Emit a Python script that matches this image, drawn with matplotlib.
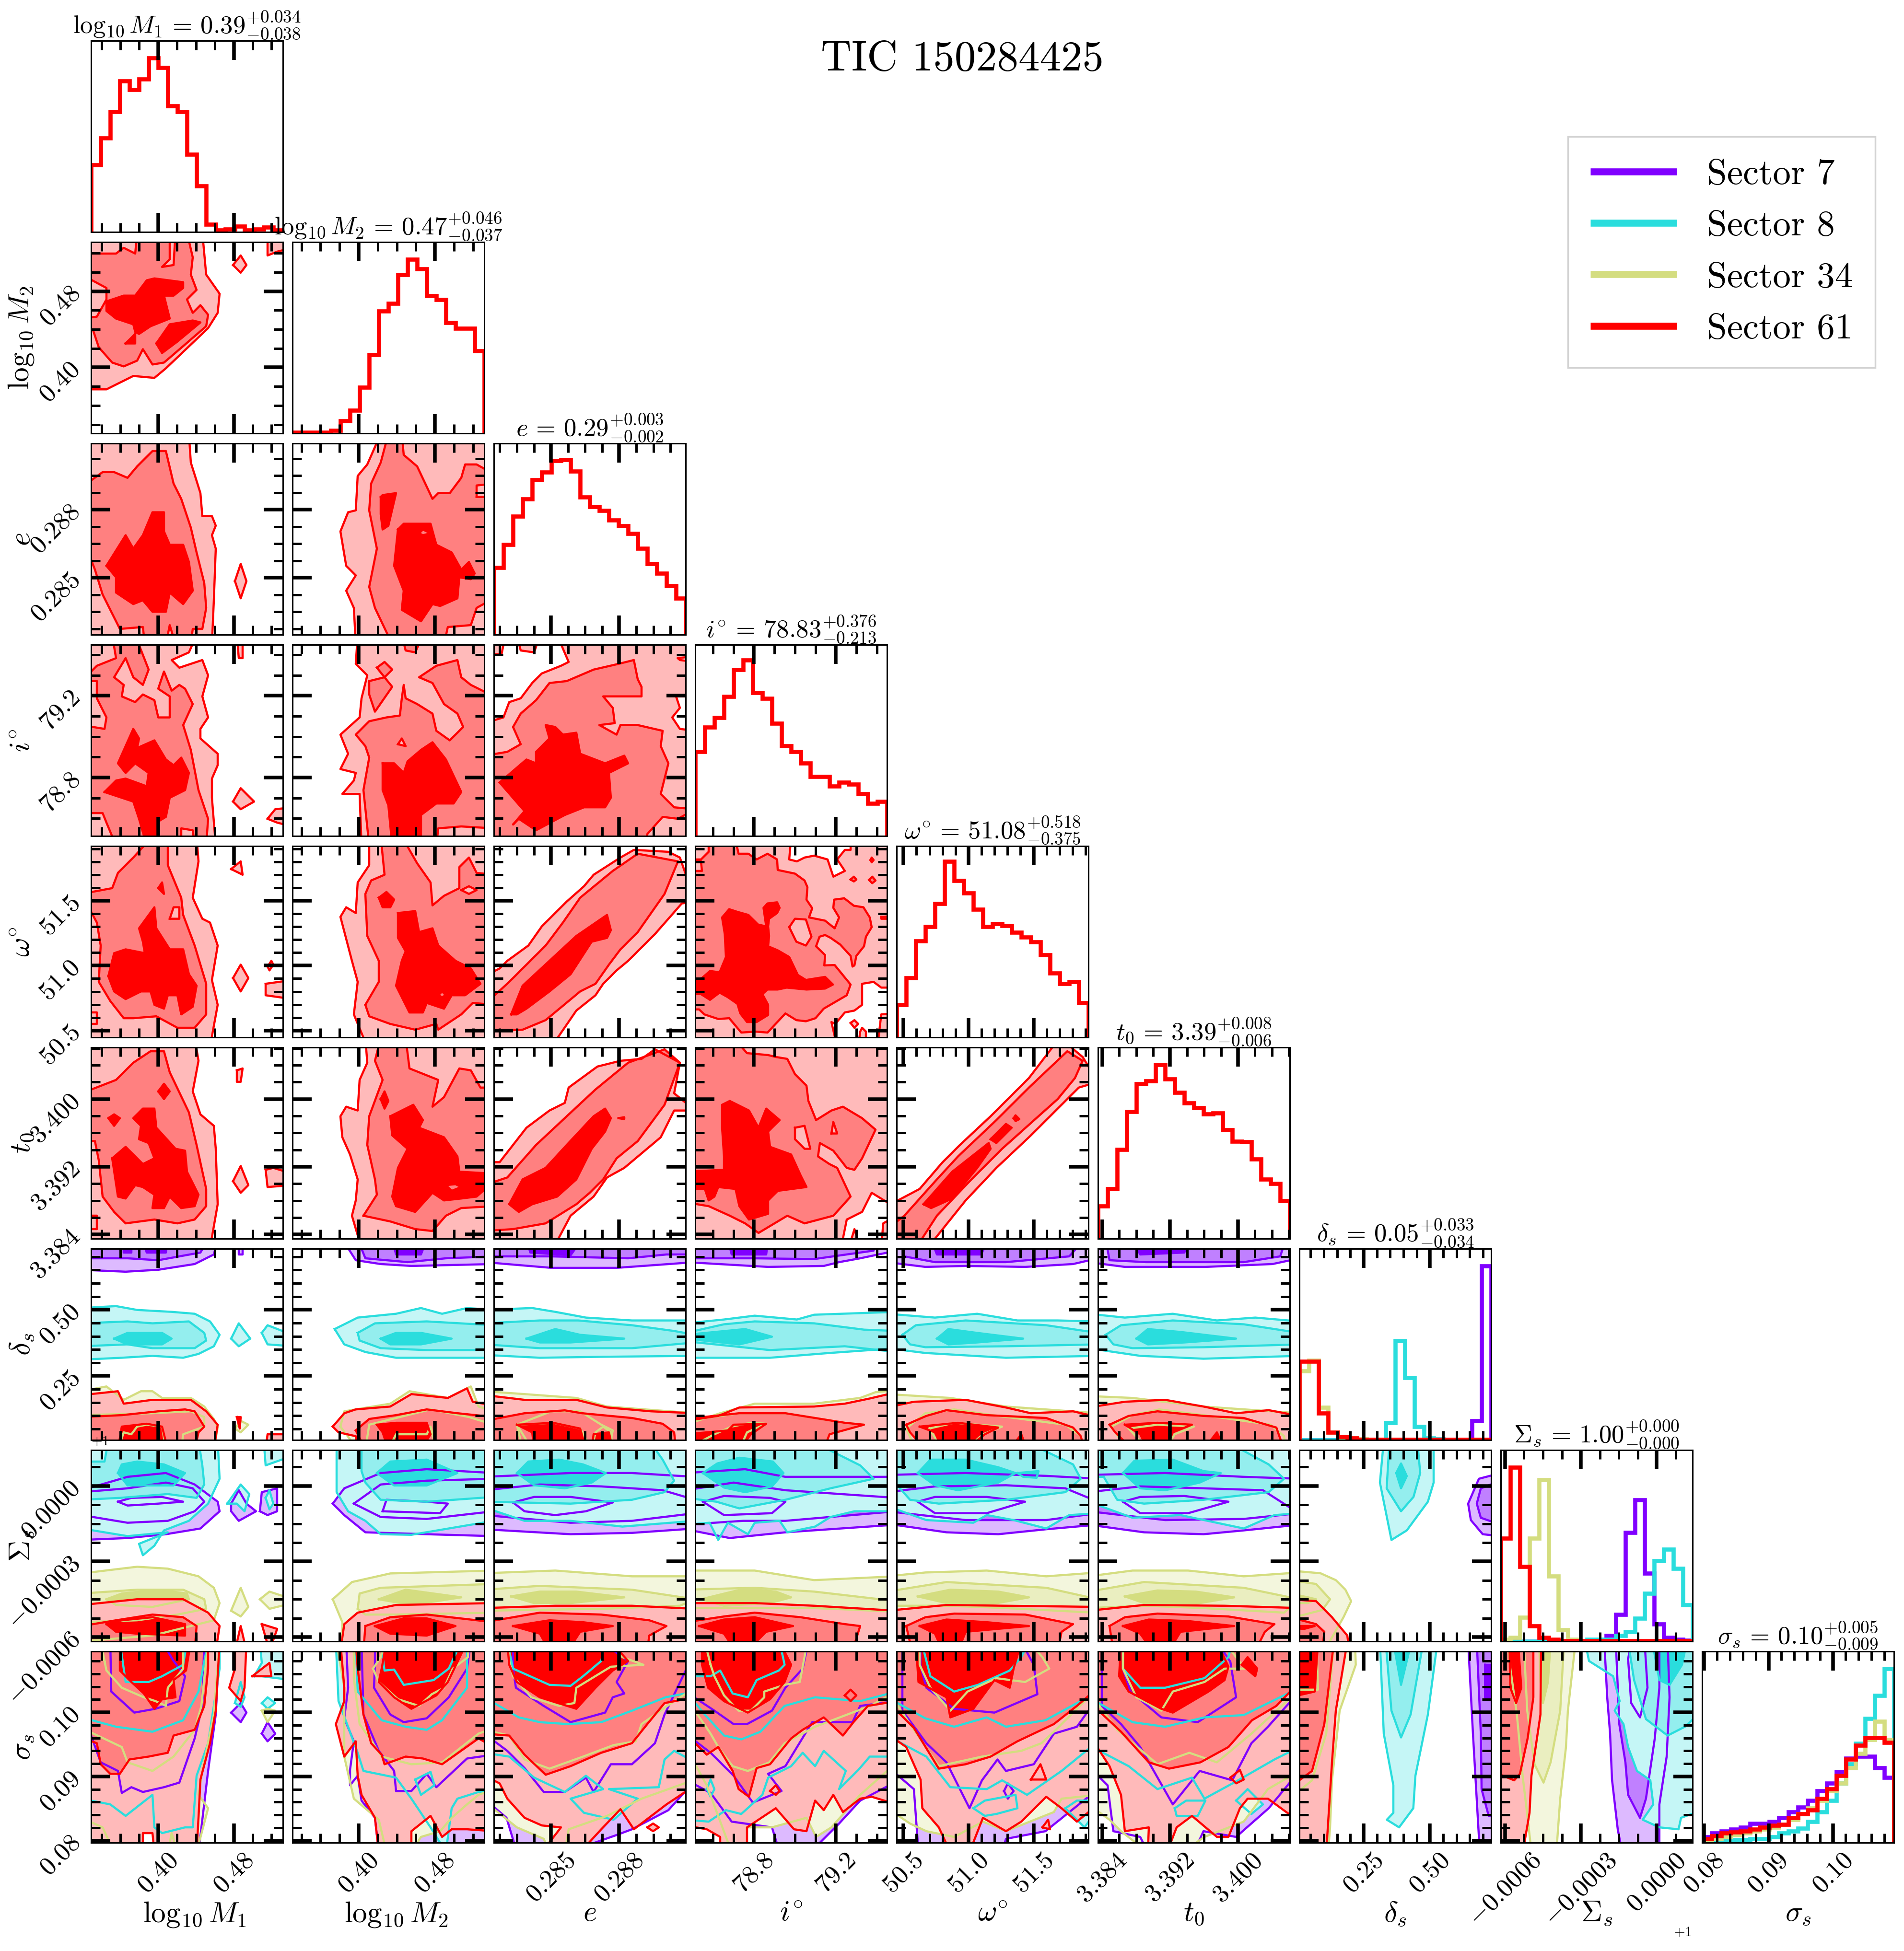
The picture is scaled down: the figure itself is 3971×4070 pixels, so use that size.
import numpy as np
import matplotlib
matplotlib.use("Agg")
import matplotlib.pyplot as plt
from matplotlib.lines import Line2D
from matplotlib.ticker import AutoMinorLocator
from matplotlib.transforms import ScaledTranslation

plt.rcParams["font.family"] = "cmr10"
plt.rcParams["mathtext.fontset"] = "cm"
plt.rcParams["axes.unicode_minus"] = False

sectors = ["Sector 7", "Sector 8", "Sector 34", "Sector 61"]
colors = ["#8000ff", "#2adddd", "#d4dd80", "#ff0000"]
shade = [0.0, 0.27, 0.5, 1.0]

names = [r"\log_{10}M_1", r"\log_{10}M_2", "e", r"i^{\circ}", r"\omega^{\circ}", "t_0", r"\delta_s", r"\Sigma_s", r"\sigma_s"]
medians = ["0.39", "0.47", "0.29", "78.83", "51.08", "3.39", "0.05", "1.00", "0.10"]
err_up = ["0.034", "0.046", "0.003", "0.376", "0.518", "0.008", "0.033", "0.000", "0.005"]
err_dn = ["0.038", "0.037", "0.002", "0.213", "0.375", "0.006", "0.034", "0.000", "0.009"]

ranges = [(0.329, 0.532), (0.3307, 0.5317), (0.28249, 0.29092), (78.514, 79.449), (50.447, 51.922),
          (3.3835, 3.4061), (0.008, 0.7305), (-0.000617, 0.000142), (0.07967, 0.1095)]
major_ticks = [[0.40, 0.48], [0.40, 0.48], [0.285, 0.288], [78.8, 79.2], [50.5, 51.0, 51.5],
               [3.384, 3.392, 3.400], [0.25, 0.50], [-0.0006, -0.0003, 0.0], [0.08, 0.09, 0.10]]
tick_text = [["0.40", "0.48"], ["0.40", "0.48"], ["0.285", "0.288"], ["78.8", "79.2"], ["50.5", "51.0", "51.5"],
             ["3.384", "3.392", "3.400"], ["0.25", "0.50"], ["-0.0006", "-0.0003", "0.0000"], ["0.08", "0.09", "0.10"]]
minor_div = [4, 4, 4, 4, 5, 4, 5, 4, 5]

# histograms, 20 bins, height in percent of panel
hist_M1 = [35, 49, 63, 79, 74.5, 80, 91, 86, 66, 63, 40.5, 24, 4, 1, 1.5, 3, 1, 1.5, 2.5, 1]
hist_M2 = [.5, .5, .5, .5, 1.5, 6.5, 12, 24, 41, 64, 68, 83, 91, 86, 72, 70, 58, 55, 55, 43]
hist_e = [35, 47, 62, 71, 81, 85, 91, 91.5, 85.5, 72, 67, 65, 60, 57, 53, 45, 37, 32, 25.5, 19]
hist_i = [44, 57, 62, 73, 87, 92, 75, 72, 59, 47, 44, 38, 31, 31, 26, 28, 27, 22, 17, 18]
hist_w = [17, 31, 50.5, 58, 70, 92, 82, 75.5, 67, 58, 59.5, 58.5, 55, 52.5, 50, 43, 33.5, 28, 29, 18]
hist_t0 = [17, 26, 46.7, 66.4, 81, 82.5, 91, 83.5, 76.5, 71, 68.4, 65.2, 65.7, 57, 51, 50.6, 41.7, 31, 28.7, 19.8]
hist_ds_7 = [0, 0, 0, 0, 0, 0, 0, 0, 0, 0, 0, 0, 0, 0, 0, 0, 0, 0, 10, 91]
hist_ds_8 = [0, 0, 0, 0, 0, 0, 0, 0, 0, 9, 52, 32.5, 7, 1, .5, 0, 0, 0, 0, 0]
hist_ds_34 = [36, 41.5, 17, 4, 1.5, 1, .5, .2, .2, .2, .2, .2, 0, 0, 0, 0, 0, 0, 0, 0]
hist_ds_61 = [41, 41, 14, 4, 1.7, 1, .3, .2, .2, .2, .2, .2, .2, .2, .2, .2, .2, .2, .2, .2]
hist_Sg_7 = [0, 0, 0, 0, 0, 0, 0, 0, 0, 0, 0, 3, 14, 57, 74, 35.5, 9, 2, 1, .5]
hist_Sg_8 = [0, 0, 0, 0, 0, 0, 0, 0, 0, 1, 1, 1, 3, 5, 12, 25, 42, 48, 38, 19]
hist_Sg_34 = [1, 2, 12.5, 54, 84.5, 34, 6, 1, .3, .3, .3, 0, 0, 0, 0, 0, 0, 0, 0, 0]
hist_Sg_61 = [54, 91, 39, 8, 2, 1, .3, .3, .3, .3, .3, .3, .3, .3, .3, .3, .3, .3, .3, .3]
hist_ss_7 = [3, 5, 6, 7, 8, 10, 10, 11, 13, 16, 18.5, 22, 27, 31, 37, 44, 45, 45, 39, 34]
hist_ss_8 = [.5, 1, 1, 1.5, 1.5, 2, 2, 3, 5, 6, 7.5, 11, 16, 22, 31, 41, 52, 65, 77, 91]
hist_ss_34 = [1, 2, 3, 4, 5, 6, 7, 8, 9.5, 12, 15, 18, 22, 27, 31, 39, 46.5, 54, 63.5, 54]
hist_ss_61 = [2, 3.5, 5, 5.5, 6, 7, 8, 9, 9.5, 13, 15, 17, 23, 28, 35, 43.5, 51, 55, 55, 52.5]

diag_hists = [[(3, hist_M1)], [(3, hist_M2)], [(3, hist_e)], [(3, hist_i)], [(3, hist_w)], [(3, hist_t0)],
              [(0, hist_ds_7), (1, hist_ds_8), (2, hist_ds_34), (3, hist_ds_61)],
              [(0, hist_Sg_7), (1, hist_Sg_8), (2, hist_Sg_34), (3, hist_Sg_61)],
              [(0, hist_ss_7), (1, hist_ss_8), (2, hist_ss_34), (3, hist_ss_61)]]

# contours: (sector, level, x,y,x,y...) with x,y in percent of each
# parameter's plotted range. level 0 is an empty hole
M2_M1 = [
    (3, 1, [-5, 23, 8, 23, 22, 30, 33, 29, 39, 34, 61, 55, 66, 63, 67, 73, 60, 83, 58, 105, -5, 105]),
    (3, 1, [74, 88, 78, 93, 81, 88, 78, 84]),
    (3, 1, [92, 105, 92, 93, 97, 95, 105, 97, 105, 105]),
    (3, 2, [-5, 94, 13, 94, 17, 97, 23, 94, 24, 105, 41, 105, 41, 91, 37, 87, 43, 88, 44, 105, 50, 105, 53, 92, 52, 83, 55, 75, 50, 70, 53, 63, 57, 67, 61, 62, 60, 56, 45, 43, 38, 37, 32, 36, 27, 44, 24, 38, 17, 35, 11, 37, 4, 45, 1, 54, -5, 54, -5, 60, 3, 61, 8, 70, 8, 76, -5, 83]),
    (3, 3, [8, 69, 17, 72, 23, 72, 29, 80, 33, 81, 48, 79, 48, 76, 43, 72, 38, 72, 41, 60, 31, 56, 25, 52, 23, 53, 22, 57, 13, 60, 8, 64]),
    (3, 3, [18, 47, 23, 52, 23, 47]),
    (3, 3, [34, 47, 41, 57, 53, 59, 57, 58, 45, 48, 37, 42]),
]
e_M1 = [
    (3, 1, [63, -5, 64, 18, 65, 45, 63, 52, 65, 57, 63, 62, 58, 62, 57, 74, 52, 90, 51, 105, -5, 105, -5, -5]),
    (3, 1, [75, 28, 78, 37, 81, 28, 78, 19]),
    (3, 2, [-5, 77, 6, 85, 12, 85, 19, 82, 24, 88, 32, 96, 39, 96, 43, 79, 47, 71, 52, 56, 55, 43, 59, 27, 60, 14, 58, 3, 53, 3, 52, -5, 44, -5, 41, 5, 39, -5, 28, -5, 27, 4, 15, 3, 12, 9, 6, 21, 2, 34, -5, 52]),
    (3, 3, [8, 36, 18, 52, 22, 45, 27, 52, 32, 64, 38, 64, 38, 54, 41, 47, 48, 47, 51, 38, 53, 23, 48, 16, 41, 22, 39, 12, 32, 12, 27, 18, 22, 16, 13, 22, 13, 30]),
]
e_M2 = [
    (3, 1, [33, -5, 32, 14, 28, 23, 33, 31, 28, 36, 25, 54, 29, 64, 33, 65, 34, 83, 39, 89, 46, 105, 105, 105, 105, -5]),
    (3, 2, [52, -5, 43, 14, 40, 25, 44, 45, 40, 65, 41, 79, 46, 90, 50, 105, 57, 105, 58, 94, 65, 88, 73, 71, 76, 74, 82, 74, 88, 82, 90, 89, 96, 89, 105, 84, 105, 19, 96, 14, 93, 5, 81, 4, 79, -5]),
    (3, 1, [96, 72, 96, 78, 105, 79, 105, 72]),
    (3, 3, [55, 55, 58, 58, 72, 58, 75, 47, 83, 43, 88, 34, 92, 38, 95, 32, 93, 29, 87, 30, 86, 19, 77, 15, 73, 16, 67, 7, 57, 13, 58, 23, 53, 36]),
    (3, 2, [66, 53, 68, 55, 72, 53, 68, 52]),
    (3, 3, [46, 72, 47, 73, 54, 74, 50, 57, 47, 55, 46, 63]),
]
i_M1 = [
    (3, 1, [65, -5, 63, 20, 63, 30, 66, 37, 66, 43, 57, 51, 57, 56, 61, 62, 58, 73, 61, 84, 58, 92, 46, 88, 42, 92, 51, 96, 55, 105, -5, 105, -5, -5]),
    (3, 1, [74, 18, 78, 25, 85, 18, 78, 14]),
    (3, 1, [92, 9, 96, 14, 105, 15, 105, 5, 97, 7]),
    (3, 1, [76, 105, 77, 93, 79, 93, 79, 105]),
    (3, 2, [-5, 12, 6, 12, 8, 7, 13, -5, 47, -5, 47, 4, 53, 3, 54, -5, 60, -5, 61, 9, 56, 24, 52, 45, 48, 58, 53, 69, 49, 77, 46, 79, 42, 76, 38, 86, 35, 77, 41, 73, 41, 62, 35, 62, 33, 71, 27, 74, 23, 70, 16, 73, 17, 79, 12, 83, 18, 93, 22, 83, 27, 79, 30, 87, 23, 105, 11, 105, 13, 93, 3, 89, -5, 81, 3, 81, 3, 72, 8, 62, 7, 56, -5, 58]),
    (3, 3, [7, 23, 13, 29, 18, 30, 29, 26, 30, 33, 23, 38, 18, 33, 14, 38, 18, 47, 22, 56, 25, 51, 24, 46, 33, 50, 39, 40, 43, 37, 47, 41, 51, 33, 49, 24, 41, 20, 39, 10, 34, 7, 35, -5, 29, -5, 25, 9, 22, 18]),
]
i_M2 = [
    (3, 1, [36, -5, 35, 22, 26, 22, 32, 29, 33, 33, 25, 35, 29, 43, 25, 53, 35, 62, 36, 72, 39, 84, 33, 90, 34, 105, 105, 105, 105, -5]),
    (3, 2, [57, 105, 59, 97, 64, 96, 68, 105]),
    (3, 2, [40, -5, 37, 24, 40, 41, 38, 47, 33, 53, 40, 60, 49, 62, 56, 63, 57, 72, 58, 79, 59, 72, 65, 69, 73, 64, 75, 55, 82, 50, 89, 57, 86, 64, 79, 69, 73, 80, 66, 83, 75, 89, 86, 92, 88, 83, 93, 79, 105, 73, 105, 4, 88, 5, 76, 4, 75, -5]),
    (3, 2, [40, 81, 48, 83, 52, 78, 43, 65, 40, 74]),
    (3, 2, [44, 88, 48, 91, 52, 87, 48, 83]),
    (3, 1, [55, 48, 57, 51, 59, 47]),
    (3, 3, [47, 38, 53, 38, 58, 33, 60, 39, 67, 45, 73, 49, 80, 40, 88, 23, 84, 17, 75, 17, 67, 11, 67, -5, 52, -5, 50, 16, 47, 24]),
]
i_e = [
    (3, 1, [-5, -5, 105, -5, 105, 105, 33, 105, 39, 91, 35, 89, 25, 85, 20, 80, 14, 72, 8, 70, 5, 62, -5, 59]),
    (3, 1, [12, 105, 14, 97, 21, 96, 24, 105]),
    (3, 1, [-5, 105, -5, 95, 4, 95, 6, 105]),
    (3, 0, [95, 73, 97, 67, 93, 62, 97, 56, 105, 55, 105, 73]),
    (3, 0, [96, 93, 105, 94, 105, 91, 97, 92]),
    (3, 2, [-5, 42, 7, 44, 14, 48, 10, 57, 14, 64, 22, 71, 29, 80, 38, 81, 52, 87, 65, 90, 73, 92, 75, 82, 77, 78, 77, 73, 57, 73, 62, 67, 63, 59, 55, 58, 64, 53, 66, 58, 75, 58, 88, 55, 87, 47, 91, 38, 87, 22, 94, 15, 105, 14, 96, 9, 88, 10, 80, 1, 79, -5, -5, -5]),
    (3, 3, [3, 28, 17, 40, 22, 38, 22, 44, 29, 51, 27, 58, 32, 57, 36, 53, 43, 54, 45, 43, 58, 38, 68, 42, 70, 38, 60, 33, 61, 20, 58, 15, 47, 15, 37, 11, 22, 3, 13, 9, 10, 6, 16, 13]),
]
w_M1 = [
    (3, 1, [62, -5, 66, 17, 63, 30, 66, 48, 62, 60, 58, 62, 53, 73, 56, 92, 55, 105, -5, 105, -5, -5]),
    (3, 1, [74, 31, 78, 38, 82, 31, 78, 24]),
    (3, 1, [73, 88, 78, 92, 79, 85]),
    (3, 1, [92, 37, 94, 40, 95, 38, 93, 35]),
    (3, 1, [91, 28, 91, 22, 105, 20, 105, 30]),
    (3, 1, [-5, 13, 3, 13, 3, 7, -5, 7]),
    (3, 2, [-5, 75, 11, 78, 14, 86, 22, 94, 32, 105, 40, 105, 40, 90, 47, 73, 48, 64, 54, 48, 60, 28, 60, 12, 54, 5, 45, 5, 34, 11, 22, 10, 17, 10, 10, 19, 4, 29, 5, 48, 3, 60]),
    (3, 3, [9, 32, 12, 44, 18, 46, 28, 44, 27, 50, 25, 57, 33, 68, 34, 57, 41, 46, 48, 46, 51, 33, 55, 27, 53, 16, 47, 12, 45, 22, 40, 22, 38, 15, 33, 17, 31, 24, 26, 24, 18, 20, 12, 24]),
    (3, 3, [35, 78, 37, 81, 38, 75]),
    (3, 1, [41, 62, 43, 68, 46, 68, 46, 62]),
]
w_M2 = [
    (3, 1, [39, -5, 32, 12, 34, 29, 31, 40, 25, 63, 28, 68, 33, 65, 34, 81, 40, 90, 40, 105, 105, 105, 105, -5]),
    (3, 2, [38, 17, 40, 11, 51, 7, 64, 4, 75, 7, 76, 4, 88, 12, 94, 18, 105, 17, 105, 85, 96, 86, 92, 94, 87, 89, 87, 78, 79, 74, 73, 69, 72, 81, 65, 91, 57, 105, 46, 105, 48, 85, 41, 82, 38, 75, 39, 53, 45, 40, 45, 29]),
    (3, 1, [88, 77, 92, 79, 96, 77, 92, 75]),
    (3, 3, [55, 65, 64, 66, 66, 55, 73, 57, 76, 48, 85, 40, 93, 36, 98, 28, 90, 22, 83, 22, 79, 15, 70, 18, 68, 13, 61, 13, 54, 27, 57, 40, 59, 45, 55, 52]),
    (3, 2, [76, 22, 78, 24, 80, 22, 78, 21]),
    (3, 3, [45, 73, 49, 76, 53, 72, 51, 68, 47, 68]),
]
w_e = [
    (3, 1, [-5, 32, 3, 36, 7, 40, 18, 48, 25, 58, 38, 71, 47, 79, 52, 85, 66, 94, 73, 98, 91, 97, 97, 94, 105, 71, 98, 70, 84, 54, 70, 40, 64, 35, 57, 28, 53, 22, 43, 14, 30, -5, -5, -5]),
    (3, 2, [-5, 17, 8, 29, 27, 48, 36, 60, 45, 73, 62, 87, 75, 96, 96, 92, 89, 75, 75, 55, 66, 46, 60, 38, 53, 28, 45, 24, 27, 9, 15, 4, -5, 3]),
    (3, 3, [9, 12, 15, 27, 29, 40, 43, 53, 59, 64, 61, 56, 59, 52, 51, 50, 40, 33, 29, 24, 17, 15, 12, 12]),
]
w_i = [
    (3, 1, [-5, -5, 105, -5, 105, 105, -5, 105]),
    (3, 0, [50, 105, 49, 93, 53, 92, 57, 94, 62, 95, 69, 93, 72, 84, 78, 87, 74, 93, 78, 98, 81, 98, 81, 105]),
    (3, 0, [105, 26, 97, 26, 93, 29, 87, 28, 87, 17, 83, 14, 78, 13, 73, 7, 71, 8, 74, -5, 105, -5]),
    (3, 1, [81, 7.5, 83, 9, 85, 7, 83, 5]),
    (3, 1, [85, -5, 86, 3, 87, 5, 89, 3, 89, -5]),
    (3, 1, [95, -5, 97, 12, 105, 12.5, 105, -5]),
    (3, 2, [7, 105, 7, 97, 3, 93, -5, 93, -5, 14.6, 2, 14.6, 4.7, 12, 12, 9.6, 17.7, 10, 24, 2.5, 31.4, 3, 37.7, 2.5, 47, 12.5, 52.7, 9, 57.7, 8.4, 62.7, 10, 67, 15, 79, 22, 81, 27.6, 72.7, 37.8, 67.3, 37.6, 67.7, 43, 63, 47.6, 64.8, 52.6, 67.7, 53.5, 70.6, 52, 75.6, 48.5, 81, 42.6, 82, 37, 83, 37.6, 84, 42.6, 88, 47.6, 89, 52.6, 92, 57.6, 91, 62.7, 87.7, 68, 82.7, 68.8, 77.7, 72.7, 72.4, 72, 72, 67.7, 75, 62.7, 72.7, 57, 67.7, 61, 59.3, 62.7, 61, 67.5, 58, 72, 58.5, 78.5, 57, 82, 52, 85.6, 43, 87.5, 42.7, 93, 37.7, 96, 32, 93, 27.7, 96, 22.6, 96, 20.6, 105]),
    (3, 1, [-5, 92, 3, 92, 3.5, 87, -5, 87]),
    (3, 1, [49, 57.6, 52, 62, 57.7, 61.6, 60.6, 52.6, 57.7, 48, 52.7, 50]),
    (3, 3, [-5, 29, 3.5, 31, 7.7, 34.7, 12.7, 34, 16, 42, 15.4, 54, 14, 62.7, 17.7, 67, 22, 65.6, 27.7, 64, 32.7, 59, 37, 58, 35.6, 67.7, 37.7, 70, 42.7, 70.6, 44, 67.7, 42.7, 65, 38.5, 62, 38, 58, 38.5, 53, 38, 47.6, 43, 45.5, 49, 42, 53.5, 32.6, 57.7, 30, 67.7, 31.6, 71.8, 27.6, 67.7, 25.5, 58, 25, 47.7, 26, 43, 25, 37.7, 25, 35, 22.6, 38, 17, 38, 11.7, 32, 8, 27, 8, 23.5, 12.5, 22, 17.5, 17, 21, 12.7, 23.4, 7.7, 19.6, 3, 22.6, -5, 22.6]),
    (3, 2, [91.4, 92.7, 92, 94, 93, 92.7, 92, 91.5]),
    (3, 2, [81, 82.5, 82.7, 84, 84, 82.5, 82.7, 81.5]),
    (3, 2, [90.6, 82.3, 92.3, 84, 94, 82, 92.3, 80.6]),
    (3, 2, [97, 63, 105, 63.5, 105, 62, 97, 62]),
]
t0_M1 = [
    (3, 1, [62, -5, 66, 18, 65, 47, 64, 59, 57, 65, 53, 77, 56, 93, 54, 105, -5, 105, -5, -5]),
    (3, 1, [74, 30, 78, 38, 82, 28, 78, 24]),
    (3, 1, [76, 88, 79, 89, 78, 82, 76, 82]),
    (3, 1, [91, 36, 95, 37, 105, 34, 105, 28, 92, 27]),
    (3, 1, [-5, 12, 3, 12, 3, 5, -5, 5]),
    (3, 2, [-5, 76, 13, 83, 22, 92, 31, 98, 38, 98, 41, 87, 51, 66, 55, 49, 60, 26, 60, 17, 54, 10, 45, 8, 33, 10, 18, 8, 12, 14, 6, 22, 4, 41, 2, 51, -5, 51]),
    (3, 3, [11, 42, 18, 48, 27, 39, 33, 42, 30, 50, 25, 52, 26, 59, 22, 63, 27, 68, 33, 68, 34, 58, 44, 47, 49, 46, 50, 35, 56, 23, 54, 17, 47, 16, 41, 22, 38, 16, 32, 16, 33, 23, 27, 27, 23, 28, 18, 21, 14, 22]),
    (3, 3, [9, 63, 12, 65, 15, 63, 12, 59]),
    (3, 3, [35, 77, 38, 81, 41, 77, 38, 73]),
]
t0_M2 = [
    (3, 1, [36, -5, 31, 12, 33, 20, 34, 31, 30, 44, 26, 53, 25, 64, 28, 69, 34, 67, 35, 83, 39, 92, 38, 105, 105, 105, 105, -5]),
    (3, 2, [37, 12, 44, 23, 43, 31, 39, 49, 40, 64, 47, 83, 43, 93, 46, 105, 59, 105, 61, 89, 76, 83, 73, 69, 79, 74, 87, 89, 93, 88, 98, 79, 105, 79, 105, 17, 88, 16, 80, 12, 73, 4, 64, 5, 51, 9]),
    (3, 3, [51, 64, 63, 70, 68, 62, 66, 58, 79, 53, 86, 43, 87, 35, 105, 34, 105, 30, 96, 22, 88, 21, 79, 20, 73, 24, 64, 14, 54, 17, 52, 22, 55, 37, 60, 47, 52, 54]),
    (3, 2, [80, 28, 85, 28.5, 88, 27, 83, 25]),
    (3, 3, [46, 73, 48, 77, 50, 72, 48, 68]),
]
t0_e = [
    (3, 1, [-5, 40, 3, 40, 17, 58, 29, 67, 37, 71, 39, 79, 54, 90, 66, 93, 77, 94, 84, 99, 97, 92, 94, 76, 105, 67, 94, 67, 87, 53, 68, 37, 59, 32, 52, 22, 40, 12, 31, -5, -5, -5]),
    (3, 2, [-5, 28, 7, 32, 22, 49, 38, 64, 53, 78, 70, 92, 89, 99, 97, 92, 89, 70, 75, 51, 64, 42, 57, 31, 50, 24, 43, 18, 27, 8, 10, 5, -5, 4]),
    (3, 3, [8, 18, 15, 31, 27, 37, 38, 49, 52, 64, 58, 68, 61, 63, 58, 56, 51, 47, 43, 31, 33, 22, 20, 18, 13, 14]),
    (3, 3, [65, 63, 68, 63.5, 68, 62.5]),
]
t0_i = [
    (3, 1, [-5, -5, 105, -5, 105, 105, -5, 105]),
    (3, 0, [76, -5, 79, 10, 87, 14, 92, 24, 105, 16, 105, -5]),
    (3, 1, [80, -5, 83, 5, 86, -5]),
    (3, 1, [97, -5, 98, 8, 105, 12, 105, -5]),
    (3, 2, [2, 105, -5, 95, -5, 19, 7, 17, 18, 12, 26, 8, 33, 3, 48, 12, 57, 8, 72, 12, 81, 22, 74, 37, 70, 39, 64, 43, 65, 50, 72, 46, 79, 37, 83, 36, 87, 42, 94, 57, 87, 63, 77, 69, 71, 67, 63, 62, 59, 72, 58, 80, 52, 86, 48, 94, 42, 95, 38, 96, 27, 97, 20, 105]),
    (3, 1, [52, 58, 57, 59, 60, 47, 57, 47, 52, 52]),
    (3, 1, [71, 55, 72, 61, 74, 55, 72, 55]),
    (3, 3, [-5, 35, 15, 36, 15, 43, 14, 58, 14, 70, 18, 72, 28, 67, 33, 58, 37, 68, 44, 62, 38, 56, 39, 48, 50, 44, 55, 33, 58, 27, 43, 25, 38, 20, 38, 13, 28, 10, 23, 17, 21, 26, 12, 27, 10, 22, 7, 20, 5, 26, -5, 26]),
]
t0_w = [
    (3, 1, [-5, 17, 12, 26, 24, 40, 33, 49, 49, 64, 69, 84, 85, 105, 97, 95, 105, 82, 95, 79, 82, 66, 70, 54, 52, 37, 36, 20, 16, -5, -5, -5]),
    (3, 2, [4, 12, 21, 31, 32, 43, 52, 62, 69, 79, 89, 98, 97, 93, 93, 84, 84, 73, 55, 47, 39, 31, 21, 12, 10, -5, 4, -5, -5, 5]),
    (3, 3, [14, 18, 29, 35, 48, 50, 49, 47, 42, 37, 29, 21, 18, 16]),
    (3, 3, [49, 52, 57, 60, 60, 58, 52, 50]),
    (3, 3, [61, 63, 62, 64.5, 64, 62.5, 62, 61.5]),
]
ds_M1 = [
    (0, 1, [-5, 89, 18, 88, 35, 89, 54, 92, 64, 97, 66, 105, -5, 105]),
    (0, 1, [77, 105, 77, 97, 79, 97, 79, 105]),
    (0, 2, [-5, 95, 19, 95, 35, 94, 57, 98, 61, 105, -5, 105]),
    (0, 3, [17, 105, 17, 98, 21, 98, 21, 105]),
    (0, 3, [27, 105, 29, 98, 39, 98, 40, 105]),
    (1, 1, [-5, 69, 13, 70, 24, 68, 42, 67, 54, 66, 62, 62, 67, 55, 64, 49, 56, 45, 48, 43, 32, 44, 16, 43, -5, 42]),
    (1, 1, [73, 53, 77, 61, 83, 53, 77, 49]),
    (1, 1, [89, 56, 92, 60, 105, 55, 105, 49, 92, 50]),
    (1, 2, [-5, 61, 19, 62, 32, 61, 51, 62, 59, 56, 60, 52, 54, 48, 32, 48, 19, 50, -5, 49]),
    (1, 3, [12, 53, 19, 56, 37, 56, 42, 53, 37, 50, 19, 50]),
    (2, 1, [-5, 25.5, 8, 28, 17, 21, 26, 25.5, 32, 25.5, 37, 22, 52, 22, 59, 17.5, 64, 11, 66, 6.5, 64, -5, -5, -5]),
    (2, 1, [75, 6, 78, 10, 82, 8, 78, 4]),
    (2, 2, [-5, 13, 32, 14, 52, 15, 59, 12, 59, 7, 48, 3, 47, -5, -5, -5]),
    (2, 3, [14, -5, 17, 4, 21, 3, 24, 7, 29, 8, 37, 7, 39, -5]),
    (3, 1, [-5, 23.5, 14, 25.5, 17, 19, 32, 21, 52, 21, 60, 15, 66, 8, 64, -5, -5, -5]),
    (3, 1, [91, -5, 92, 3, 105, 3, 105, -5]),
    (3, 2, [-5, 12, 16, 13, 35, 15, 49, 16, 54, 15, 59, 7, 56, 4, 54, -5, -5, -5]),
    (3, 3, [14, -5, 16, 7, 29, 8.5, 37, 7, 40, -5]),
    (3, 3, [76, 12, 78, 12, 77.5, 6]),
]
ds_M2 = [
    (0, 1, [26, 105, 33, 94, 46, 92, 62, 91, 105, 92, 105, 105]),
    (0, 2, [34, 105, 38, 95, 60, 93, 80, 95, 105, 96, 105, 105]),
    (0, 3, [52, 105, 54, 97, 67, 97, 70, 105]),
    (1, 1, [22, 58, 34, 64, 54, 66, 67, 69, 78, 66, 91, 69, 105, 68, 105, 43, 54, 43, 38, 46, 27, 50]),
    (1, 2, [34, 56, 43, 61, 70, 62, 105, 60, 105, 47, 70, 47, 46, 48, 35, 52]),
    (1, 3, [46, 53, 54, 56, 67, 56, 83, 53, 67, 50, 51, 50]),
    (2, 1, [25, 7, 27, 15, 51, 19, 61, 25.5, 81, 22, 93, 28, 97, 17.5, 105, 15, 105, -5, 34, -5]),
    (2, 2, [40, 8, 72, 16, 92, 12, 105, 8, 105, -5, 38, -5]),
    (2, 3, [50, -5, 54, 3, 70, 3, 72, 7, 75, -5]),
    (3, 1, [21, 7, 27, 14, 33, 16, 51, 17.5, 62, 24, 81, 22, 91, 27, 94, 20, 105, 18, 105, -5, 34, -5, 33, 2, 24, 4]),
    (3, 2, [33, 5, 40, 11, 54, 13, 70, 16, 86, 14, 105, 12, 105, -5, 38, -5]),
    (3, 3, [44, 8, 54, 9, 70, 9, 72, 3, 67, -5, 50, -5, 47, 4]),
]
ds_e = [
    (0, 1, [-5, 93, 30, 90, 64, 90, 105, 93, 105, 105, -5, 105]),
    (0, 2, [-5, 96, 30, 96, 70, 95, 90, 97, 105, 97, 105, 105, -5, 105]),
    (0, 3, [17, 105, 19, 98, 40, 96.6, 46, 105]),
    (1, 1, [-5, 68, 20, 69, 32, 67, 48, 64, 72, 62.5, 105, 62.5, 105, 44, 56, 43.5, 24, 43, -5, 44.5]),
    (1, 2, [-5, 61, 24, 62.5, 44, 62.5, 72, 60, 94, 57, 105, 55, 105, 51, 72, 48, 24, 48, -5, 50]),
    (1, 3, [17, 53, 32, 58, 45, 55, 68, 53, 40, 51, 24, 51]),
    (2, 1, [-5, 25.5, 16, 24, 43, 22, 59, 17.5, 105, 14, 105, -5, -5, -5]),
    (2, 2, [12, 8, 30, 15, 45, 15, 56, 8, 62, 5, 60, -5, 15, -5]),
    (2, 3, [12, 8, 31, 9, 45, 6, 51, -5, 53, 4, 57, 7, 61, 4, 62, -5, 48, -5, 20, -5]),
    (3, 1, [-5, 23.5, 16, 21, 43, 21, 59, 17, 82, 15, 105, 14, 105, -5, -5, -5]),
    (3, 2, [-5, 10, 16, 14, 37, 15.5, 46, 14, 72, 11.5, 88, 8.5, 94, 4, 95, -5, -5, -5]),
    (3, 3, [12, 8, 31, 9, 45, 6, 48, -5, 21, -5, 20, 4]),
    (3, 3, [51, -5, 52, 3, 60, 4, 62, -5]),
]
ds_i = [
    (0, 1, [-5, 93, 38, 90.5, 67, 91, 75, 93, 86, 95, 105, 99, 105, 105, -5, 105]),
    (0, 2, [-5, 95, 30, 95, 62, 94.6, 93, 99, 94, 105, -5, 105]),
    (0, 3, [17, 105, 19, 97, 37, 97, 38, 105]),
    (1, 1, [-5, 61, 15, 63, 31, 65, 53, 63, 62, 65.5, 105, 67, 105, 48, 70, 45.5, 39, 43, -5, 43]),
    (1, 2, [-5, 56, 15, 60.5, 31, 62, 62, 61, 88, 57.7, 105, 57, 105, 46, 78, 49, 39, 47, -5, 51.6]),
    (1, 3, [-5, 55, 26, 58, 40, 54, 23, 50, -5, 53]),
    (2, 1, [-5, 8, 13, 14, 31, 19, 62, 19, 86, 22, 94, 25, 105, 26, 105, -5, -5, -5]),
    (2, 2, [-5, 10, 23, 14, 47, 14, 78, 9, 88, 8, 70, 3, 67, -5, -5, -5]),
    (2, 3, [23, -5, 27, 4, 37, 8.5, 29, 9, 19, 7, 10, 3, -5, -5]),
    (3, 1, [-5, 10, 12, 12.6, 23, 17, 62, 17.5, 78, 19, 91, 21.7, 105, 25, 105, -5, -5, -5]),
    (3, 2, [-5, 11, 23, 14, 47, 14, 78, 9, 88, 8, 70, 3, 67, -5, -5, -5]),
    (3, 3, [-5, -5, -5, 3, 17, 5, 20, 8, 37, 8.5, 29, 3, 23, -5]),
]
ds_w = [
    (0, 1, [-5, 93, 15, 90.5, 36, 91, 67, 90.5, 92, 92, 105, 95, 105, 105, -5, 105]),
    (0, 2, [3, 105, 4, 96, 20, 93, 57, 93, 90, 96, 98, 105]),
    (0, 3, [18, 105, 21, 97, 44, 97, 48, 105]),
    (1, 1, [-5, 66, 20, 64, 42, 66, 63, 62.5, 84, 62.5, 105, 62, 105, 44, 57, 43, 15, 45.5, -5, 48]),
    (1, 2, [3, 55, 10, 60, 36, 62.5, 78, 60, 105, 56, 105, 50, 57, 49, 15, 48.5, 7, 50]),
    (1, 3, [21, 53, 27, 58, 42, 56, 66, 53, 42, 51, 27, 50]),
    (2, 1, [-5, 24, 28, 22, 57, 17.5, 105, 14, 105, -5, -5, -5]),
    (2, 2, [5, 6, 15, 14, 30, 16, 50, 13, 88, 8, 96, 2, 97, -5, 10, -5]),
    (2, 3, [17, 6, 30, 9, 55, 7, 45, 3, 36, -5, 24, -5]),
    (3, 1, [-5, 17, 9, 20, 36, 21, 57, 17, 70, 14, 92, 15, 105, 12, 105, -5, -5, -5]),
    (3, 2, [5, 8, 15.5, 12.6, 26, 15.6, 47, 13, 78, 11.5, 92, 6.5, 96, 2, 98, -5, 15, -5, 7, 4]),
    (3, 3, [12, 7, 32, 9, 53, 6.5, 46, 3, 36, -5, 24, -5, 20, 4]),
    (3, 3, [59, -5, 65, 3, 68, -5]),
]
ds_t0 = [
    (0, 1, [-5, 93, 14, 90.5, 56, 90.5, 91, 92, 105, 95, 105, 105, -5, 105]),
    (0, 2, [4, 105, 6, 94, 25, 93, 76, 93, 95, 96, 98, 105]),
    (0, 3, [18, 105, 22, 97, 45, 98, 48, 105]),
    (1, 1, [-5, 66, 14, 64, 39, 66, 62, 62.5, 82, 64, 105, 62, 105, 44, 55, 42.5, 22, 44, -5, 48]),
    (1, 2, [4, 55, 12, 60, 39, 62.5, 76, 60.5, 105, 56, 105, 50, 55, 48.5, 18, 48, 8, 50]),
    (1, 3, [20, 53, 26, 58, 43, 56.5, 72, 53, 45, 51, 26, 50]),
    (2, 1, [-5, 23, 18, 22, 55, 17.5, 105, 14, 105, -5, -5, -5]),
    (2, 2, [7, 7, 18, 13, 32, 16, 55, 13, 90, 8, 97, 2, 98, -5, 15, -5]),
    (2, 3, [16, 6, 31, 8, 50, 7, 40, 3, 35, -5, 26, -5]),
    (3, 1, [-5, 17, 14, 20, 35, 21, 55, 17.5, 72, 14, 89, 15.6, 105, 12.6, 105, -5, -5, -5]),
    (3, 2, [6, 8, 16, 12.6, 31, 15, 55, 12.6, 76, 11.5, 93, 6.5, 97, -5, 18, -5, 9, 4]),
    (3, 3, [14, 8, 31, 9, 49, 8, 39, 4, 35, -5, 26, -5, 22, 3]),
    (3, 3, [55, -5, 62, 4, 66, -5]),
]
Sg_M1 = [
    (0, 1, [-5, 79, 19, 86, 39, 88, 54, 82, 66, 73, 67, 68, 57, 59, 39, 56, 19, 54, -5, 53]),
    (0, 1, [73, 72, 77, 79, 81, 72, 86, 68, 77, 63, 73, 68]),
    (0, 1, [88, 68, 89, 78, 97, 80, 97, 68, 92, 66]),
    (0, 2, [-5, 66, 19, 62, 40, 63, 54, 68, 59, 73, 53, 80, 39, 83, 19, 80, -5, 78]),
    (0, 3, [14, 73, 21, 75, 37, 75.5, 48, 73, 35, 72, 19, 71]),
    (1, 1, [-5, 59, 19, 55, 40, 57, 25, 51, 27, 45, 33, 50, 38, 58, 51, 63, 61, 72, 67, 85, 66, 105, -5, 105]),
    (1, 1, [71, 72, 78, 82, 82.5, 77, 80, 68, 76, 72]),
    (1, 1, [91, 75, 93, 79, 95, 72, 93, 69]),
    (1, 1, [90, 105, 91, 92, 105, 97, 105, 105]),
    (1, 2, [-5, 94, 7, 94, 9, 105, 56, 105, 58, 92, 59, 82, 55, 75, 40, 77, 15, 75, -5, 74]),
    (1, 3, [14, 88, 16, 92.5, 24, 94, 38, 92.5, 49, 88, 43, 81.5, 29, 81.5, 19, 81.5]),
    (2, 1, [-5, 35.5, 24, 39, 40, 38, 56, 34, 64, 28, 67, 20, 64, 11, 48, 7, 32, 3, -5, 0]),
    (2, 1, [73, 16, 78, 28, 82, 18, 78, 13]),
    (2, 1, [88, 22, 93, 26, 105, 22, 105, 20, 93, 17]),
    (2, 2, [-5, 25, 24, 27, 48, 27, 59, 22, 60, 17, 45, 14, 24, 11, -5, 10]),
    (2, 3, [8, 22, 16, 25, 35, 27, 50, 25, 51, 22, 32, 18, 13, 19]),
    (3, 1, [-5, 19, 24, 22, 48, 22, 61, 15, 67, 8, 65, -5, -5, -5]),
    (3, 1, [75, -5, 78, 8, 81, -5]),
    (3, 1, [89, 9, 97, 6.5, 93, -5]),
    (3, 2, [-5, 8, 13, 11, 32, 14, 48, 12.6, 55, 8, 54, -5, -5, -5]),
    (3, 3, [8, 9, 16, 11, 32, 12.6, 49, 9, 49, 3, 24, 4, 13, 5]),
]
Sg_M2 = [
    (0, 1, [21, 72, 27, 80, 46, 88, 70, 90, 105, 88, 105, 55, 70, 56, 38, 57, 27, 66]),
    (0, 2, [32, 72, 46, 82, 70, 84, 105, 85, 105, 68, 70, 64, 46, 65]),
    (0, 3, [47, 68, 49, 74, 70, 73, 81, 72, 77, 67, 47, 68]),
    (1, 1, [23, 105, 23, 78, 29, 68, 38, 63, 46, 56, 62, 55.7, 105, 63, 105, 105]),
    (1, 2, [36, 105, 36, 89, 38, 83, 46, 74, 70, 73, 105, 75.5, 105, 105]),
    (1, 3, [44, 88, 51, 94, 70, 95, 86, 88, 70, 81.5, 53, 81.5]),
    (2, 1, [21, 22, 31, 31, 51, 35.5, 105, 37, 105, -5, 26, -5, 26, 10]),
    (2, 2, [34, 17, 35, 25, 46, 28, 105, 30, 105, 15, 54, 14, 38, 14]),
    (2, 3, [45, 22, 59, 27, 88, 23, 62, 19]),
    (3, 1, [25, -5, 27, 9, 34, 15, 54, 19, 105, 20, 105, -5]),
    (3, 2, [38, 8, 51, 12.6, 70, 14, 105, 10, 105, -5, 37, -5]),
    (3, 3, [43, 8, 58, 12, 70, 12, 85, 8, 70, 3, 51, 4]),
]
Sg_e = [
    (0, 1, [-5, 86, 40, 88, 72, 88, 105, 86, 105, 59, 72, 56.7, 40, 56, -5, 58.6]),
    (0, 2, [-5, 79, 24, 82, 56, 81, 88, 79, 105, 74, 105, 67, 72, 63, 40, 62, -5, 66]),
    (0, 3, [10, 72.6, 21, 75.5, 40, 75.5, 62, 72.6, 48, 68, 32, 66, 16, 68]),
    (1, 1, [-5, 70, 16, 63, 40, 63, 67, 60, 105, 63, 105, 105, -5, 105]),
    (1, 2, [-5, 73, 40, 72, 72, 74, 89, 78, 94, 84, 88, 95, 81, 105, -5, 105]),
    (1, 3, [12, 88, 18, 94, 34, 95, 46.5, 92.5, 58.4, 88, 51, 83, 37, 80, 21, 81.6]),
    (2, 1, [-5, 35.6, 32, 37, 72, 34, 105, 34, 105, -5, -5, -5]),
    (2, 2, [-5, 27, 24, 29, 72, 27, 105, 22, 97, 18.6, 56, 17, -5, 16]),
    (2, 3, [9, 23.5, 24, 26, 43, 26, 68, 23, 40, 20, 21, 20]),
    (3, 1, [-5, 17.4, 32, 18.6, 72, 18.6, 105, 17, 105, -5, -5, -5]),
    (3, 2, [-5, 10, 24, 15, 56, 14, 81, 11, 90, 8, 81, 3, 80, -5, -5, -5]),
    (3, 3, [10, 8, 29, 11, 46.5, 10, 62, 8, 45, 5, 38.6, -5, 29, -5, 24, 4]),
]
Sg_i = [
    (0, 1, [-5, 88, 26, 90, 47, 86, 105, 86, 105, 61, 70, 58.6, 47, 57, 18, 54, -5, 58.6]),
    (0, 2, [-5, 79, 20, 83, 47, 79, 105, 75, 105, 68, 47, 63, 25, 63, -5, 61]),
    (0, 3, [4, 73, 15, 76, 39, 75, 47, 73, 40, 67, 15, 66]),
    (1, 1, [-5, 61, 7.5, 62, 12, 53, 17, 62, 27.5, 56, 31, 62, 44, 63, 48, 57, 62.5, 60, 70.5, 65, 83, 68, 105, 68, 105, 105, -5, 105]),
    (1, 2, [-5, 75, 11, 73, 23, 69.5, 47, 74, 70.5, 80, 93, 85, 86, 92, 70, 100, 63, 105, -5, 105]),
    (1, 3, [4, 88, 11.5, 93, 23, 96, 40.5, 94, 46, 88, 40, 81, 26, 78, 15, 80.4]),
    (2, 1, [-5, 37, 31, 37, 62, 32, 105, 34, 105, -5, -5, -5]),
    (2, 2, [-5, 27, 31, 28, 62, 26, 105, 21, 105, 15.5, 62, 17.4, 31, 17.4, -5, 17.4]),
    (2, 3, [3, 22, 26, 27.6, 42, 26, 50, 23, 39, 20, 15, 18.6]),
    (3, 1, [-5, 20, 31, 20, 62, 18.6, 105, 16, 105, -5, -5, -5]),
    (3, 2, [-5, 10, 15, 13, 31, 15, 55, 12.6, 78, 9, 86, 8, 82, -5, -5, -5]),
    (3, 3, [2, 8, 15, 11.4, 31, 12.6, 51, 8, 37, 5, 27, -5, 21, -5, 15, 4]),
]
Sg_w = [
    (0, 1, [-5, 87, 36, 88, 78, 86.5, 105, 85, 105, 61, 78, 58.6, 53, 56, 26, 57, -5, 61.5]),
    (0, 2, [-5, 78, 20, 81, 57, 81.6, 88, 80, 105, 73, 105, 67, 78, 63.4, 36, 63.4, -5, 68]),
    (0, 3, [11, 73, 20, 75.5, 47, 75.5, 67, 73, 47, 67, 20, 67]),
    (1, 1, [-5, 70.7, 15.5, 63.4, 40, 62, 47, 66, 61, 63.4, 78, 59, 90, 66, 105, 67, 105, 105, -5, 105]),
    (1, 2, [-5, 87.6, 7, 74, 22, 72, 57, 74, 88, 78, 96, 85, 92, 92.5, 66, 105, -5, 105]),
    (1, 3, [11, 88, 17.6, 95, 36, 95, 53, 91, 62, 88, 53, 83, 32, 79, 20, 81.6]),
    (1, 3, [63, 88, 74, 89, 73, 85.5, 66, 86]),
    (2, 1, [-5, 34, 15, 36, 47, 37, 78, 34, 105, 36, 105, -5, -5, -5]),
    (2, 2, [-5, 26, 26, 31, 78, 28, 105, 22, 103, 15, 57, 17.4, 26, 18.6, -5, 18.6]),
    (2, 3, [11, 23.5, 28, 27, 53, 26, 69, 23, 47, 19, 26, 20]),
    (3, 1, [-5, 16, 26, 19, 57, 18.6, 105, 18, 105, -5, -5, -5]),
    (3, 2, [5, 8, 15, 12.6, 30, 14.5, 67, 14, 92, 9, 86, 5, 84, -5, 8, -5]),
    (3, 3, [12, 8, 26, 11.4, 47, 10, 69, 8, 36, 5, 32, -5, 24, -5, 20, 4]),
]
Sg_t0 = [
    (0, 1, [-5, 87, 35, 88, 76, 86, 105, 85, 105, 61, 76, 58, 55, 56, 24, 57, -5, 61]),
    (0, 2, [-5, 78, 22, 81, 55, 80, 86, 79, 100, 70, 105, 67, 76, 64, 35, 63.4, -5, 68]),
    (0, 3, [13, 73, 22, 75.5, 45, 76, 68, 73, 47, 67, 22, 67]),
    (1, 1, [-5, 73, 18, 64.6, 43, 66, 76, 59, 92, 66, 105, 67, 105, 105, -5, 105]),
    (1, 2, [3, 86, 10, 74, 24, 72, 55, 74, 89, 78, 97, 85, 89, 92.5, 66, 105, -5, 105, -5, 86]),
    (1, 3, [13, 88, 19, 94.4, 39, 95, 55, 89, 64, 88, 53, 83, 35, 79, 22, 80]),
    (2, 1, [-5, 34, 18, 37, 47, 37, 76, 34, 105, 36, 105, -5, -5, -5]),
    (2, 2, [-5, 26, 24, 31, 76, 28, 105, 22, 97, 15, 55, 17.4, 24, 18.6, -5, 17.4]),
    (2, 3, [14, 23.5, 31, 26.6, 51, 26, 71, 23, 47, 19, 24, 20]),
    (3, 1, [-5, 16, 24, 19, 66, 18.6, 105, 17.4, 105, -5, -5, -5]),
    (3, 2, [6, 8, 14, 12.6, 31, 14.5, 68, 13, 92, 9, 87, 5, 82, -5, 8, -5]),
    (3, 3, [13, 8, 26.5, 11.4, 47, 10.6, 71, 8, 43, 5, 37, -5, 28.5, -5, 22, 4]),
]
Sg_ds = [
    (0, 1, [105, 88, 93.6, 85, 88, 72, 89.4, 63.4, 95.6, 56, 105, 55]),
    (0, 2, [105, 84, 94.6, 80, 92.5, 72, 94.6, 64.6, 105, 61]),
    (1, 1, [44, 105, 42, 83, 48, 53, 56, 58, 67, 73, 70, 83, 70, 105]),
    (1, 2, [47, 105, 45.5, 80, 53, 68, 59.5, 75.5, 63, 88, 61.5, 105]),
    (1, 3, [50.5, 88, 53, 93, 56, 86.4, 53, 80]),
    (2, 1, [-5, 37, 11, 35.6, 19, 32, 24, 27, 27, 21, 23, 12.6, 13, -5, -5, -5]),
    (2, 2, [-5, 32, 8.7, 30, 16, 22, 12, 16.4, -5, 12]),
    (2, 3, [-5, 25, 4.5, 23, 8.7, 22, 4.5, 20, -5, 20]),
    (3, 1, [-5, 22, 8.7, 21, 17, 12.6, 25, 3, 26, -5, -5, -5]),
    (3, 2, [-5, 12.6, 8.7, 9, 13, 5, 12, -5, -5, -5]),
    (3, 3, [-5, 8, 8, 8, 2.5, 6.5, -5, 7]),
]
ss_M1 = [
    (0, 1, [56, -5, 61, 37.5, 65, 67, 67, 105, -5, 105, -5, -5]),
    (0, 1, [73, 68, 78, 73, 81, 68, 78, 63]),
    (0, 1, [89, 57, 92, 63, 96, 57, 92, 53]),
    (0, 2, [-5, 70, 5, 42, 14, 37.5, 16, 26, 21, 29, 27, 26.5, 38, 29, 46, 31.4, 54, 54.5, 58, 71.5, 59, 105, -5, 105]),
    (0, 3, [10, 105, 10.5, 79, 22.5, 68, 33.6, 70, 46, 74, 49, 87, 43, 95, 37, 105]),
    (1, 1, [-5, 23, 10, 20, 18, 14, 32, 25, 33, 8, 37, 5, 49, 8, 53, 8, 55, 35, 61, 52, 67, 91, 67, 105, -5, 105]),
    (1, 1, [75, 73, 78, 84, 80, 76, 78, 71]),
    (1, 1, [89, 73, 92, 76, 96, 73, 92, 70]),
    (1, 1, [85, 87, 89, 87, 105, 85, 105, 105, 88, 105, 89, 94]),
    (1, 2, [-5, 65.5, 13, 60.6, 32, 58, 48, 64, 56, 79, 61, 105, -5, 105]),
    (1, 3, [15, 105, 18, 84, 30, 84, 37, 87, 48, 93, 50, 105]),
    (2, 1, [-5, 13, 6, 8, 12, -5, 40, -5, 42, 5, 45, -5, 55, -5, 61, 18, 56, 25, 58, 37.5, 64, 67, 67, 105, -5, 105]),
    (2, 1, [89, 69, 92, 70, 96, 69, 92, 63]),
    (2, 2, [-5, 60, 16, 50, 19, 42, 32, 37.5, 43, 45, 54, 59, 57.5, 71.5, 61, 105, -5, 105]),
    (2, 3, [7, 95, 8, 90, 16, 81, 27.5, 76, 33.6, 74, 39, 71.5, 40, 81, 48, 91, 48, 105, 5, 105]),
    (3, 1, [-5, -5, 55, -5, 56, 13, 57, 33, 62, 52, 65, 69, 67, 105, -5, 105]),
    (3, 0, [27, -5, 27, 5, 32, 5, 33, -5]),
    (3, 1, [75, 105, 75, 91, 72, 81, 78, 74, 80, 81, 81, 105]),
    (3, 1, [84, 87, 93, 94, 94, 87]),
    (3, 2, [-5, 55, 3, 52, 5, 41, 10, 36, 15, 36, 20, 43.5, 30, 45, 40, 47, 43, 56, 54, 59, 59, 71.5, 61, 91, 61, 105, -5, 105]),
    (3, 3, [15, 105, 15, 90, 21, 84, 27.5, 78, 33, 70, 37, 75, 44, 76, 43, 85, 49.5, 90, 52, 105]),
]
ss_M2 = [
    (0, 1, [28, 105, 29, 81, 27, 65, 32, 53, 30, 38, 30, 30, 34, 35, 36, 22, 43, 13, 45, -5, 105, -5, 105, 105]),
    (0, 2, [36, 105, 37, 67, 45, 48, 53, 37.5, 54, 27, 62, 27, 70, 36, 75, 29, 91, 44, 105, 46, 105, 105]),
    (0, 3, [43, 105, 43, 94, 42.5, 81, 51, 67, 58, 63, 70, 65, 81.5, 76, 91, 91, 93, 105]),
    (1, 1, [22.6, 105, 24, 74, 34, 47, 37, 37.5, 54, 34, 62, 23, 72, 8, 80, -5, 83, 18, 86, 23, 97, 26.5, 105, 27, 105, 105]),
    (1, 1, [64, 33, 72, 37, 74, 30, 67, 25]),
    (1, 2, [33, 105, 34, 79, 46.5, 64, 59, 60.6, 70, 59, 78, 64, 91, 81, 91, 105]),
    (1, 3, [46, 105, 48, 90, 53, 90.5, 58, 82.5, 73.6, 85, 81.5, 91, 88, 105]),
    (2, 1, [23, 105, 27, 81, 27, 45, 32, 23, 45, 12, 49, -5, 62, -5, 67, 3, 77, 6, 83, 13, 91, 20, 97, 25, 105, 28, 105, 105]),
    (2, 2, [32, 105, 32, 86, 35, 62, 42, 52, 46.5, 45, 62, 41, 78, 42, 97, 57, 105, 60, 105, 105]),
    (2, 3, [42, 91, 46, 97, 48, 105, 92, 105, 91.5, 97, 83.6, 91, 79, 81, 72.6, 77.6, 66, 71.5, 55, 75, 45, 84]),
    (3, 1, [45, -5, 62, -5, 62, 6, 72, 14, 78, 3, 83, 7, 91, 7, 105, 6, 105, 105, 25, 105, 27, 81, 27, 74, 22.6, 62, 27, 45, 33, 53, 34, 35, 36, 25, 43, 13]),
    (3, 2, [33, 105, 34, 91, 37, 67, 41, 52, 46.5, 46, 48, 41, 59, 45, 68, 44, 78, 41, 97, 54.5, 105, 50, 105, 105]),
    (3, 3, [49, 105, 46.5, 91, 45, 84, 53, 76, 62, 70, 75, 77, 81, 84, 91, 105]),
]
ss_e = [
    (0, 1, [-5, 23, 6.6, 13, 12, -5, 38.5, -5, 64, 4, 72, 7, 91, 17, 105, 32.6, 105, 105, -5, 105]),
    (0, 2, [-5, 57, 7, 48, 16, 39, 26, 26.5, 37, 26.5, 48, 34, 52, 26.5, 61, 41, 72, 41, 84, 52, 89, 67, 100, 90, 105, 105, -5, 105]),
    (0, 3, [10, 105, 10, 91, 11.5, 81, 26, 71.5, 40, 63, 58, 68, 62, 76, 68, 78, 64, 84, 70, 95, 56, 105]),
    (1, 1, [-5, 47, 8, 45, 21, 34, 37, 26.5, 48, 35, 57, 28, 40, 23, 47, 15.6, 62.4, 12, 75, 23, 60, 28, 86, 29, 89, 43.5, 94, 48, 105, 42, 105, 105, -5, 105]),
    (1, 2, [-5, 76, 13, 65.5, 24, 63, 38.5, 62, 56, 63, 72, 69, 89.5, 76, 105, 79, 105, 105, -5, 105]),
    (1, 3, [7, 105, 10, 91, 29, 82.5, 40, 82, 46.5, 87, 56, 95, 58, 105]),
    (2, 1, [-5, 21.6, 12, 8, 26, 2, 29, -5, 37, -5, 39, 7, 59, 14, 77, 23, 91, 28, 105, 33, 105, 105, -5, 105]),
    (2, 2, [-5, 59, 8, 56, 16, 43.5, 29, 38.7, 46.5, 45, 62.4, 51, 74, 53, 77, 62, 94, 74, 105, 81, 105, 105, -5, 105]),
    (2, 3, [8, 95, 10, 87, 19.5, 76, 34, 71.5, 42, 73, 43, 81, 61, 92, 78, 93, 67, 97, 61, 105, 8, 105]),
    (3, 1, [-5, 35, 3, 31, 7, 23, 16, 13, 25, 9, 35, 8, 25, -5, 45, -5, 56, 7, 66, 17.5, 73, 7, 90, 20, 105, 30, 105, 105, -5, 105]),
    (3, 1, [80, 8, 83, 10, 86, 8, 83, 6]),
    (3, 2, [-5, 57, 8, 56, 16, 46, 27, 35.5, 40, 40, 56, 47, 72, 52, 80, 62, 89, 73, 105, 76, 105, 105, -5, 105]),
    (3, 3, [7, 105, 8, 93, 12, 84, 24, 76, 43, 70, 53, 81, 62, 90, 70, 95, 61, 105]),
]
ss_i = [
    (0, 1, [-5, 33, 8, 26, 19, 11, 40, 8, 44, -5, 60, -5, 75, 10, 86, 22, 105, 32, 105, 105, -5, 105]),
    (0, 2, [-5, 57, 8, 47, 20, 35, 30, 21, 45, 27, 38, 36, 47, 40, 61, 63, 82, 63, 86, 71.5, 105, 74, 105, 105, -5, 105]),
    (0, 3, [-5, 79, 10, 69, 20, 62, 27, 62, 40, 69, 47, 81, 56, 91, 59, 105, -5, 105]),
    (1, 1, [-5, 12, 7, 11, 16, 17, 24, 15, 35, 25, 38, 34, 50, 40, 56, 47, 62.5, 40, 67, 48, 78.5, 37.5, 75, 28, 85, 38, 91, 45, 105, 45, 105, 105, -5, 105]),
    (1, 1, [6, 28, 8, 33, 10, 28, 8, 24]),
    (1, 2, [-5, 79, 5, 67, 15, 56, 24, 54, 34, 58, 46.6, 71.5, 62.5, 76, 86, 74, 105, 79, 105, 105, -5, 105]),
    (1, 3, [-5, 87, 8, 87, 13, 90, 19.5, 78, 27.4, 76, 32, 85, 43.6, 90, 46.6, 93, 44, 105, -5, 105]),
    (2, 1, [-5, 50, 6, 30, 19, -5, 27, -5, 27, 8, 40, 8, 58, 13, 63, 3, 71, 8, 86, 25, 105, 42, 105, 105, -5, 105]),
    (2, 2, [-5, 76, 8, 57, 12, 50, 19.5, 40, 27.4, 37.5, 38.6, 42, 46.6, 52, 62.5, 60.6, 78.5, 66.7, 91.2, 71.5, 105, 79, 105, 105, -5, 105]),
    (2, 3, [8, 93, 10, 87, 15, 77, 22.6, 69, 29, 69, 36, 76, 36, 79, 46.6, 82.5, 54.5, 84, 58.5, 105, 5, 105]),
    (3, 1, [-5, 9, 6, 7, 13, 3, 13, -5, 27, -5, 27, 8, 42, 18, 51.5, 7, 58, 6, 62.5, 22, 67, 17, 72, 25, 77, 16, 86, 23, 92, 24, 105, 20, 105, 105, -5, 105]),
    (3, 1, [39, 27, 42, 30, 44, 27, 42, 25]),
    (3, 2, [-5, 57, 6, 46, 12, 50, 19.5, 37.5, 22.6, 28, 28, 24, 32, 39, 39, 41, 50, 54.5, 56, 59, 67, 65.5, 77, 56, 82.5, 63, 90, 71.5, 105, 74, 105, 105, -5, 105]),
    (3, 2, [78, 77, 81, 80, 84, 77, 81, 74]),
    (3, 3, [3.5, 105, 3.5, 93, 6.7, 81, 15, 74, 27.4, 68, 39, 75, 46.6, 84, 50, 93, 44, 105]),
]
ss_w = [
    (0, 1, [-5, 105, -5, 40, 9, 28, 11.4, -5, 55, -5, 57, 2, 77.6, 6, 105, 28, 105, 105]),
    (0, 1, [56, 27, 58, 31, 61, 27, 58, 23]),
    (0, 2, [3, 105, 3, 69, 15.5, 52, 26, 42, 38, 18, 44.5, 32.6, 52.6, 43.5, 57, 37.5, 71.5, 41, 82, 57, 94, 60.6, 105, 76, 105, 105]),
    (0, 3, [12.4, 105, 12.4, 93, 15.5, 81, 30, 70, 51, 68, 73.4, 77.6, 71.5, 93, 65, 105]),
    (1, 1, [-5, 56, 15.5, 45, 28, 29, 47, 28, 55, 32.6, 68, 25, 86, 37.5, 105, 53, 105, 105, -5, 105]),
    (1, 1, [40, 18, 46, 22, 62, 25, 63, 18, 52, 15, 46, 14]),
    (1, 1, [88, 18, 98, 8, 105, 18, 105, 22, 94, 22]),
    (1, 2, [-5, 76, 15, 65, 30, 60.6, 47, 65.5, 57, 60.6, 77.6, 64, 105, 79, 105, 105, -5, 105]),
    (1, 3, [13, 105, 17.6, 87, 30, 79, 42.4, 82.5, 59, 90, 65, 97, 69, 105]),
    (2, 1, [-5, 18, 7, 10, 15.5, 6, 30, 3, 45, 11, 57, 6, 82, 16, 86, 23, 105, 25, 105, 105, -5, 105]),
    (2, 2, [-5, 80, 7, 62, 22, 40, 44.5, 45, 65, 48, 75.5, 52, 82, 58, 105, 81, 105, 105, -5, 105]),
    (2, 3, [12, 105, 12, 93, 17.6, 81, 28, 69, 37, 79, 52, 86, 67, 84, 79.6, 91, 76, 97, 69, 105]),
    (3, 1, [-5, 57, 5, 50, 12.5, 33, 13.4, 18, 22, 8, 28, -5, 38, -5, 45, 13, 57, 6, 65, 11, 78, 24, 86, 18, 94, 11, 105, 20, 105, 105, -5, 105]),
    (3, 1, [70, 33, 75, 41, 78, 33]),
    (3, 1, [76, 8, 79, 12, 80, 7]),
    (3, 2, [-5, 74, 9, 60, 22, 38.7, 36, 41, 49, 45, 63, 53, 82, 62, 94, 71.5, 105, 81, 105, 105, -5, 105]),
    (3, 3, [10, 105, 11.4, 84, 26, 76, 28, 65.5, 40, 70, 51, 85, 59, 81, 61, 91, 65, 105]),
]
ss_t0 = [
    (0, 1, [-5, 105, -5, 40, 5, 30, 8, 6, 22, 3, 26, -5, 50, -5, 55, 6, 72, 3, 89, 18, 105, 37.5, 105, 105]),
    (0, 2, [2, 105, 2, 71.5, 12, 62, 22, 50, 39, 20, 53, 37.5, 70, 32.6, 80, 52, 88.6, 60.6, 105, 79, 105, 105]),
    (0, 3, [13, 105, 13, 91, 17, 79, 33, 65.5, 52, 63, 72, 76, 69, 94.6, 62, 105]),
    (1, 1, [-5, 51, 16, 40, 31, 28, 49, 34, 55.5, 23, 72, 32, 92, 43.5, 105, 50, 105, 105, -5, 105]),
    (1, 1, [40, 18, 46, 22, 56, 22, 52, 14, 41, 14]),
    (1, 1, [72, 22, 78, 28, 86, 20, 80, 15]),
    (1, 2, [-5, 76, 18, 63, 35, 60.6, 55.5, 65.5, 76, 66.7, 105, 81, 105, 105, -5, 105]),
    (1, 3, [13, 105, 13, 91, 22, 81, 35, 81, 55.5, 86, 68, 97, 70, 105]),
    (2, 1, [-5, 20, 6, 12, 12, 6, 26, -5, 44, -5, 55.5, 3, 76, 11, 88.6, 28, 105, 37.5, 105, 105, -5, 105]),
    (2, 2, [-5, 79, 10, 59, 31, 41, 47.6, 47, 62, 42, 80, 57, 105, 80, 105, 105, -5, 105]),
    (2, 3, [13, 105, 13, 91, 20, 76, 33, 69, 39, 79, 55.5, 84, 66, 91, 76.6, 91, 72, 97, 66, 105]),
    (3, 1, [-5, 57, 6, 40, 12, 25, 14, 6, 26.5, 8, 26, -5, 36, -5, 41, 8, 49, 14, 62, 3, 68, 3, 74, 18, 78, 23, 88.6, 23, 105, 11, 105, 105, -5, 105]),
    (3, 1, [69, 34, 74, 38, 76, 33, 72, 31]),
    (3, 2, [-5, 74, 12, 58, 26.5, 42, 37, 38.7, 53.4, 42, 68, 50, 80.3, 64, 93, 71.5, 105, 84, 105, 105, -5, 105]),
    (3, 3, [12, 105, 11, 87, 16, 79, 33, 70, 39, 68, 57.6, 79, 66, 85, 68, 92, 62, 105]),
    (3, 3, [75, 93, 78, 97, 83, 91, 82, 87]),
]
ss_ds = [
    (0, 1, [88, 105, 90.5, 57, 93.6, 3, 94.6, -5, 105, -5, 105, 105]),
    (0, 2, [92.5, 105, 94.6, 57, 95, 28, 98.7, 14, 105, 13, 105, 105]),
    (0, 3, [96.8, 93, 96.8, 76, 105, 75, 105, 93]),
    (1, 1, [42, 105, 44, 57, 49, 30, 49, 15.6, 45.6, 12, 52, 8, 59.4, 18, 60.5, 35, 67, 67, 72, 105]),
    (1, 2, [45, 105, 48, 69, 53, 55, 58, 67, 64.6, 105]),
    (1, 3, [49, 105, 53, 82.5, 58.4, 105]),
    (2, 1, [-5, 105, 29, 105, 29.4, 93, 21, 69, 17, 32.6, 16, 8, 15, -5, -5, -5]),
    (2, 2, [18, 105, 14, 57, 6.6, 32.6, -5, 23, -5, 105]),
    (2, 3, [9, 105, 9.7, 80, -5, 80, -5, 105]),
    (3, 1, [25, 105, 19, 69, 17, 42, 14, -5, -5, -5, -5, 105]),
    (3, 2, [18, 105, 13, 62, 6.6, 37.5, -5, 29, -5, 105]),
    (3, 3, [9.7, 105, 8, 79, -5, 76, -5, 105]),
]
ss_Sg = [
    (0, 1, [54, 105, 55.5, 76, 57, 57, 58, 33, 61, 7, 63.3, -5, 82.7, -5, 82.7, 20, 86.5, 45, 88, 76, 87, 105]),
    (0, 2, [60, 105, 61.8, 62, 65, 42, 66.4, 25, 72.6, 13, 75.7, 23, 80.3, 54.5, 82.7, 81, 82.7, 105]),
    (0, 3, [66.4, 96, 68, 73, 72.6, 65.5, 76.5, 81, 75, 105, 68, 105]),
    (1, 1, [44, 105, 46, 95, 58.6, 87, 62, 74, 59.4, 69, 64, 62, 66.4, 50, 71, 37.5, 78, 32.6, 79.5, 20, 74, 12, 82.7, 8, 92.7, 7, 94, 13, 105, 17, 105, 105]),
    (1, 2, [66.4, 105, 69.5, 85, 75.7, 64.6, 87, 56, 96, 60.6, 105, 69, 105, 105]),
    (1, 3, [79, 105, 82.7, 85, 88, 82.5, 94.5, 93, 97, 105]),
    (2, 1, [39, 105, 35, 69, 34, 50, 31, 23, 29, -5, 16, -5, 14, 13, 11.4, 35, 8.4, 67, 5, 91, 3.7, 105]),
    (2, 2, [33, 105, 31, 69, 26, 42, 22.3, 31.4, 17.6, 41, 13.8, 69, 12, 105]),
    (2, 3, [26, 105, 24.6, 84, 22, 73, 20.7, 84, 20, 105]),
    (3, 1, [21, 105, 20.7, 67, 16, 35, 15, 15.6, 11.5, -5, -5, -5, -5, 105]),
    (3, 2, [17, 105, 17, 76, 14, 54.5, 10, 36, 7, 32.6, -5, 37.5, -5, 105]),
    (3, 3, [4.5, 105, 5, 81, 8, 73, 10.7, 81, 9, 105]),
]

panels = {(1, 0): M2_M1, (2, 0): e_M1, (2, 1): e_M2, (3, 0): i_M1, (3, 1): i_M2, (3, 2): i_e,
          (4, 0): w_M1, (4, 1): w_M2, (4, 2): w_e, (4, 3): w_i,
          (5, 0): t0_M1, (5, 1): t0_M2, (5, 2): t0_e, (5, 3): t0_i, (5, 4): t0_w,
          (6, 0): ds_M1, (6, 1): ds_M2, (6, 2): ds_e, (6, 3): ds_i, (6, 4): ds_w, (6, 5): ds_t0,
          (7, 0): Sg_M1, (7, 1): Sg_M2, (7, 2): Sg_e, (7, 3): Sg_i, (7, 4): Sg_w, (7, 5): Sg_t0, (7, 6): Sg_ds,
          (8, 0): ss_M1, (8, 1): ss_M2, (8, 2): ss_e, (8, 3): ss_i, (8, 4): ss_w, (8, 5): ss_t0, (8, 6): ss_ds, (8, 7): ss_Sg}

W, H = 3971, 4070
fig = plt.figure(figsize=(W / 100, H / 100), dpi=100)


def mix(col, f):
    c = np.array(matplotlib.colors.to_rgb(col))
    return tuple(1 - f * (1 - c))


def style(ax, c, r, is_diag):
    ax.set_xlim(ranges[c])
    ax.set_xticks(major_ticks[c])
    ax.xaxis.set_minor_locator(AutoMinorLocator(minor_div[c]))
    if is_diag:
        ax.set_ylim(0, 100)
        ax.set_yticks([])
    else:
        ax.set_ylim(ranges[r])
        ax.set_yticks(major_ticks[r])
        ax.yaxis.set_minor_locator(AutoMinorLocator(minor_div[r]))
    ax.set_axisbelow(False)
    ax.tick_params(which="major", direction="in", length=29, width=5.4, top=True, right=True, left=not is_diag)
    ax.tick_params(which="minor", direction="in", length=14, width=3.6, top=True, right=True, left=not is_diag)
    for s in ax.spines.values():
        s.set_linewidth(2.2)
        s.set_zorder(5)
    if r == 8:
        ax.set_xticklabels(["$%s$" % t for t in tick_text[c]], rotation=45, fontsize=39)
        ax.set_xlabel("$%s$" % names[c], fontsize=44)
        ax.xaxis.set_label_coords(0.54 if c < 2 else 0.5, -0.3)
    else:
        ax.set_xticklabels([])
    if c == 0 and not is_diag:
        ax.set_yticklabels(["$%s$" % t for t in tick_text[r]], rotation=45, fontsize=39)
        shift = ScaledTranslation(0, -0.25, fig.dpi_scale_trans)
        for lab in ax.get_yticklabels():
            lab.set_transform(lab.get_transform() + shift)
        ax.set_ylabel("$%s$" % names[r], fontsize=44)
        ax.yaxis.set_label_coords(-0.29, 0.5)
    elif not is_diag:
        ax.set_yticklabels([])
    ax.tick_params(which="major", pad=10)


for r in range(9):
    for c in range(r + 1):
        left = 190 + 420 * c
        top = 85 + 420 * r
        ax = fig.add_axes([left / W, 1 - (top + 399) / H, 400 / W, 399 / H])
        if r == c:
            edges = np.linspace(ranges[c][0], ranges[c][1], 21)
            for s, vals in diag_hists[c]:
                ax.stairs(vals, edges, baseline=0, color=colors[s], lw=6.2)
            style(ax, c, r, True)
            ax.set_title(r"$%s\,=\,%s^{+%s}_{-%s}$" % (names[c], medians[c], err_up[c], err_dn[c]), fontsize=38, pad=2)
        else:
            x0, x1 = ranges[c]
            y0, y1 = ranges[r]
            for k, (s, lev, pts) in enumerate(panels[(r, c)]):
                a = np.array(pts, float).reshape(-1, 2)
                xs = x0 + a[:, 0] / 100 * (x1 - x0)
                ys = y0 + a[:, 1] / 100 * (y1 - y0)
                ax.fill(xs, ys, color=mix(colors[s], shade[lev]), lw=0, zorder=1 + s * 0.1 + k * 0.001)
                ax.plot(np.r_[xs, xs[0]], np.r_[ys, ys[0]], color=colors[s], lw=3.2, zorder=2 + s * 0.1)
            style(ax, c, r, False)
        if r == 7 and c == 0:
            ax.text(0.0, 1.01, "$+1$", transform=ax.transAxes, fontsize=21, va="bottom", ha="left")
        if r == 8 and c == 7:
            ax.text(0.95, -0.47, "$+1$", transform=ax.transAxes, fontsize=21, va="center", ha="center")

fig.text(2007 / W, 1 - 124 / H, "TIC 150284425", fontsize=64, ha="center", va="center")

handles = [Line2D([], [], color=col, lw=10.5, solid_capstyle="butt") for col in colors]
leg = fig.legend(handles, sectors, loc="upper right", bbox_to_anchor=(3911 / W, 1 - 285 / H), bbox_transform=fig.transFigure,
                 fontsize=54, frameon=True, fancybox=False, edgecolor="lightgray", borderaxespad=0,
                 handlelength=2.4, handletextpad=0.85, labelspacing=0.53, borderpad=0.62, framealpha=1)
leg.get_frame().set_linewidth(2.5)

fig.savefig("out.png", dpi=100)
